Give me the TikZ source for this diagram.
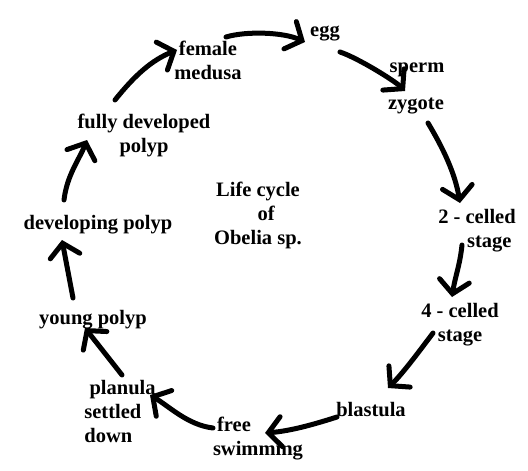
\documentclass[tikz,border=0pt]{standalone}
\usepackage{fontspec}
\setmainfont{Liberation Serif}
\usepackage{tikz}
\usetikzlibrary{arrows.meta}

\tikzset{
	stage/.style={inner sep=1pt, align=center, font=\fontsize{20.5}{24}\selectfont\bfseries},
	cyc/.style={line width=5pt, line cap=round, -{Straight Barb[length=13pt,width=30pt,line cap=round]}}
}

\begin{document}
\begin{tikzpicture}[x=1pt, y=-1pt]
				\useasboundingbox (0, 0) rectangle (528, 471);
				% stages
				\node[stage] (egg) at (325, 34) {egg};
				\node[stage] (sperm) at (417, 70) {sperm};
				\node[stage] (zygote) at (416, 106) {zygote};
				\node[stage] (two) at (477, 231) {2 - celled\\ \hspace{1.2em}stage};
				\node[stage] (four) at (460, 325) {4 - celled\\stage};
				\node[stage] (blastula) at (371, 410) {blastula};
				\node[stage, align=left] (free) at (258, 439) {\hspace{0.2em}free\\swimming};
				\node[stage, align=left] (planula) at (120, 411) {\hspace{0.25em}planula\\settled\\down};
				\node[stage] (young) at (93, 320) {young polyp};
				\node[stage] (developing) at (98, 225) {developing polyp};
				\node[stage] (fully) at (144, 135) {fully developed\\polyp};
				\node[stage] (medusa) at (208, 60) {female\\medusa};
				\node[stage] (title) at (258, 215) {Life cycle\\ \hspace{0.8em}of\\Obelia sp.};
				% cycle
				\draw[cyc] ([shift={(18,-23)}]medusa.center) .. controls +(20,-6) and +(-22,-10) .. ([shift={(-20,8)}]egg.center);
				\draw[cyc] ([shift={(15,18)}]egg.center) .. controls +(18,6) and +(-10,-10) .. ([shift={(-11,-15)}]zygote.center);
				\draw[cyc] ([shift={(12,17)}]zygote.center) .. controls +(15,25) and +(-5,-30) .. ([shift={(-17,-28)}]two.center);
				\draw[cyc] ([shift={(-15,14)}]two.center) .. controls +(-2,20) and +(3,-20) .. ([shift={(-8,-28)}]four.center);
				\draw[cyc] ([shift={(-27,8)}]four.center) .. controls +(-15,20) and +(15,-15) .. ([shift={(17,-22)}]blastula.center);
				\draw[cyc] ([shift={(-34,7)}]blastula.center) .. controls +(-25,8) and +(25,-2) .. ([shift={(7,-6)}]free.center);
				\draw[cyc] ([shift={(-45,-11)}]free.center) .. controls +(-25,-3) and +(20,12) .. ([shift={(30,-16)}]planula.center);
				\draw[cyc] ([shift={(2,-36)}]planula.center) -- ([shift={(-8,8)}]young.center);
				\draw[cyc] ([shift={(-20,-22)}]young.center) -- ([shift={(-36,15)}]developing.center);
				\draw[cyc] ([shift={(-34,-25)}]developing.center) .. controls +(3,-25) and +(-8,20) .. ([shift={(-57,5)}]fully.center);
				\draw[cyc] ([shift={(-29,-35)}]fully.center) .. controls +(20,-25) and +(-25,10) .. ([shift={(-31,-10)}]medusa.center);
\end{tikzpicture}
\end{document}
